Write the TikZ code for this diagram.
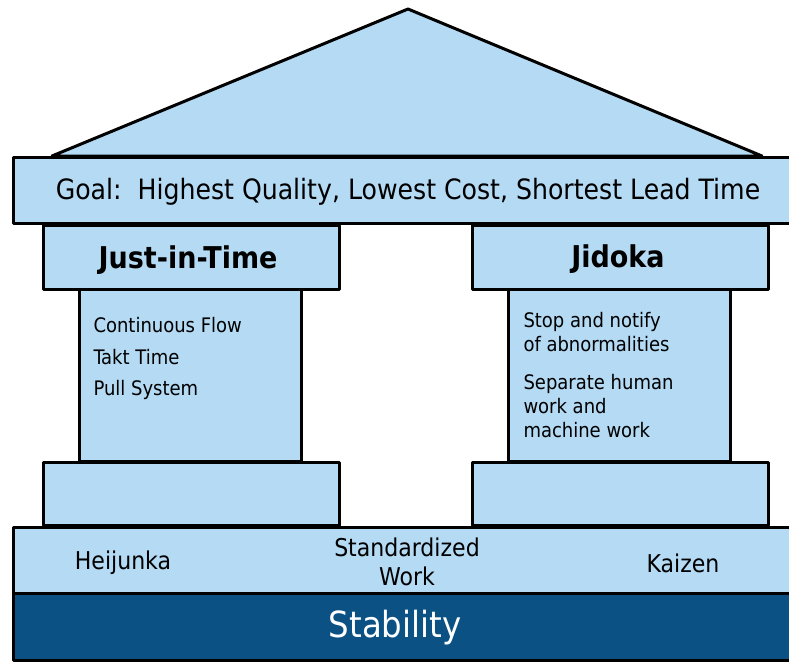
\documentclass[tikz,border=0pt]{standalone}
\usepackage{fontspec}
\setmainfont{DejaVu Sans Condensed}
\usepackage{tikz}

\definecolor{pillarblue}{RGB}{180,218,244}
\definecolor{stableblue}{RGB}{12,81,131}

\tikzset{
	label/.style={inner sep=0pt, font=\fontsize{24.5}{29}\selectfont},
	item/.style={inner sep=0pt, anchor=west, font=\fontsize{20}{24}\selectfont},
	title/.style={inner sep=0pt, font=\fontsize{30}{32}\selectfont\bfseries}
}

\begin{document}
\begin{tikzpicture}[x=1pt, y=-1pt, line width=3pt, line join=round]
			\useasboundingbox (0,0) rectangle (789,662);
			% roof and goal beam
			\filldraw[fill=pillarblue] (52,156) -- (408,9) -- (762,156) -- cycle;
			\filldraw[fill=pillarblue] (13,157) rectangle (800,223);
			% two pillars: shaft, capital, foot
			\foreach \x in {43, 472}
			{
				\filldraw[fill=pillarblue] (\x+36,289) rectangle +(222,172);
				\filldraw[fill=pillarblue] (\x,225) rectangle +(296,64);
				\filldraw[fill=pillarblue] (\x,462) rectangle +(296,63);
			}
			% foundation
			\filldraw[fill=pillarblue] (13,527) rectangle (800,593);
			\filldraw[fill=stableblue] (13,593) rectangle (800,660);

			\node[inner sep=0pt, font=\fontsize{28}{30}\selectfont] (goal) at (408,192)
				{Goal:\ \ Highest Quality, Lowest Cost, Shortest Lead Time};
			\node[title] (jit) at (188,260) {Just-in-Time};
			\node[title] (jidoka) at (618,259) {Jidoka};

			\node[item] (flow) at (92,325) {Continuous Flow};
			\node[item] (takt) at (92,357) {Takt Time};
			\node[item] (pull) at (92,390) {Pull System};

			\node[item, align=left] (stop) at (522,332) {Stop and notify\\of abnormalities};
			\node[item, align=left] (separate) at (522,406) {Separate human\\work and\\machine work};

			\node[label] (heijunka) at (123,563) {Heijunka};
			\node[label, align=center] (stdwork) at (407,562) {Standardized\\Work};
			\node[label] (kaizen) at (683,563) {Kaizen};
			\node[inner sep=0pt, text=white, font=\fontsize{36}{38}\selectfont] (stability) at (395,628) {Stability};
		\end{tikzpicture}
\end{document}
